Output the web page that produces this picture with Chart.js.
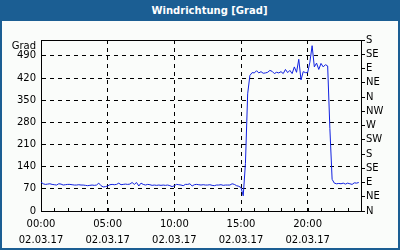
<!DOCTYPE html>
<html>
<head>
<meta charset="utf-8">
<script src="https://cdn.jsdelivr.net/npm/chart.js@4"></script>
<style>
  html, body { margin: 0; padding: 0; overflow: hidden; background: #1b5e93; }
  #frame { position: relative; width: 400px; height: 250px; background: #1b5e93; }
  #title { height: 21px; color: #fff; font: bold 10px "DejaVu Sans"; line-height: 21px; text-align: center; padding-left: 19px; }
  #inner { position: absolute; left: 2px; top: 21px; width: 396px; height: 227px; background: #fafcfa; }
</style>
</head>
<body>
<div id="frame">
  <div id="title">Windrichtung [Grad]</div>
  <div id="inner"><canvas id="chart" width="396" height="227"></canvas></div>
</div>
<script>
// Windrichtung 02.03.17, one sample every 10 minutes
const sampleMinutes = 10;
const windDir = [
  91, 86, 84, 85, 86, 84,
  83, 82, 86, 85, 82, 83,
  84, 84, 83, 82, 82, 83,
  82, 82, 81, 80, 81, 82,
  81, 82, 88, 80, 76, 77,
  79, 83, 84, 83, 84, 88,
  83, 84, 85, 84, 85, 90,
  84, 90, 79, 88, 84, 82,
  84, 83, 81, 82, 81, 82,
  81, 82, 81, 82, 80, 77,
  80, 84, 83, 82, 80, 84,
  84, 86, 79, 83, 84, 83,
  82, 83, 82, 82, 83, 81,
  80, 82, 82, 83, 81, 82,
  82, 82, 86, 84, 80, 78,
  74, 48, 150, 370, 428, 437,
  436, 443, 436, 440, 435, 436,
  438, 444, 441, 434, 438, 436,
  440, 434, 447, 437, 444, 434,
  455, 438, 479, 414, 440, 437,
  437, 470, 522, 455, 467, 447,
  466, 455, 462, 458, 260, 100,
  88, 86, 87, 86, 88, 85,
  88, 86, 84, 89, 88, 90
];

const gradTicks = [0, 70, 140, 210, 280, 350, 420, 490];
const dirTicks = [0, 45, 90, 135, 180, 225, 270, 315, 360, 405, 450, 495, 540];
const dirLabels = ['N', 'NE', 'E', 'SE', 'S', 'SW', 'W', 'NW', 'N', 'NE', 'E', 'SE', 'S'];
const majorHours = [0, 5, 10, 15, 20];
const timeLabels = ['00:00', '05:00', '10:00', '15:00', '20:00'];
const dateLabel = '02.03.17';
const hourTicks = Array.from({ length: 25 }, (_, h) => h);

const tickFont = { family: 'DejaVu Sans', size: 10 };

// frame: top border, inward hour ticks, "Grad" caption
const frame = {
  id: 'frame',
  afterDraw(chart) {
    const { ctx, chartArea: a, scales } = chart;
    ctx.save();
    ctx.strokeStyle = '#000';
    ctx.lineWidth = 1;
    ctx.beginPath();
    ctx.moveTo(a.left, a.top + 0.5);
    ctx.lineTo(a.right, a.top + 0.5);
    hourTicks.forEach(h => {
      if (h === 0 || h === 24) return;
      const x = Math.round(scales.x.getPixelForValue(h)) + 0.5;
      ctx.moveTo(x, a.bottom);
      ctx.lineTo(x, a.bottom - 3);
    });
    ctx.stroke();
    ctx.fillStyle = '#000';
    ctx.font = '10px "DejaVu Sans"';
    ctx.textAlign = 'right';
    ctx.textBaseline = 'middle';
    ctx.fillText('Grad', a.left - 5, a.top + 6);
    ctx.restore();
  }
};

new Chart(document.getElementById('chart'), {
  type: 'line',
  data: {
    datasets: [{
      data: windDir.map((v, i) => ({ x: i * sampleMinutes / 60, y: v })),
      borderColor: '#1020e0',
      borderWidth: 1,
      pointRadius: 0,
      tension: 0,
      yAxisID: 'y'
    }]
  },
  options: {
    responsive: false,
    animation: false,
    devicePixelRatio: 1,
    layout: { padding: { top: 19, left: 0, right: 0, bottom: 0 } },
    plugins: { legend: { display: false }, tooltip: { enabled: false } },
    scales: {
      x: {
        type: 'linear', min: 0, max: 24,
        afterBuildTicks: s => { s.ticks = hourTicks.map(v => ({ value: v })); },
        afterFit: s => { s.height = 37; },
        ticks: {
          autoSkip: false, maxRotation: 0, padding: 5, color: '#000',
          font: { ...tickFont, lineHeight: 1.6 },
          callback: v => {
            const k = majorHours.indexOf(v);
            return k < 0 ? '' : [timeLabels[k], dateLabel];
          }
        },
        grid: { drawTicks: false, color: c => (c.tick && c.tick.value > 0 && majorHours.includes(c.tick.value)) ? '#000' : 'rgba(0,0,0,0)' },
        border: { color: '#000', width: 1, dash: [4, 4] }
      },
      y: {
        position: 'left', min: 0, max: 540,
        afterBuildTicks: s => { s.ticks = gradTicks.map(v => ({ value: v })); },
        afterFit: s => { s.width = 39; },
        ticks: { autoSkip: false, padding: 5, color: '#000', font: tickFont },
        grid: { drawTicks: false, color: c => (c.tick && c.tick.value > 0) ? '#000' : 'rgba(0,0,0,0)' },
        border: { color: '#000', width: 1, dash: [4, 4] }
      },
      y2: {
        position: 'right', min: 0, max: 540,
        afterBuildTicks: s => { s.ticks = dirTicks.map(v => ({ value: v })); },
        afterFit: s => { s.width = 37; },
        ticks: { autoSkip: false, padding: 1, color: '#000', font: tickFont, callback: (v, i) => dirLabels[i] },
        grid: { drawOnChartArea: false, drawTicks: true, tickLength: 4, tickColor: '#000' },
        border: { color: '#000', width: 1 }
      }
    }
  },
  plugins: [frame]
});
</script>
</body>
</html>
